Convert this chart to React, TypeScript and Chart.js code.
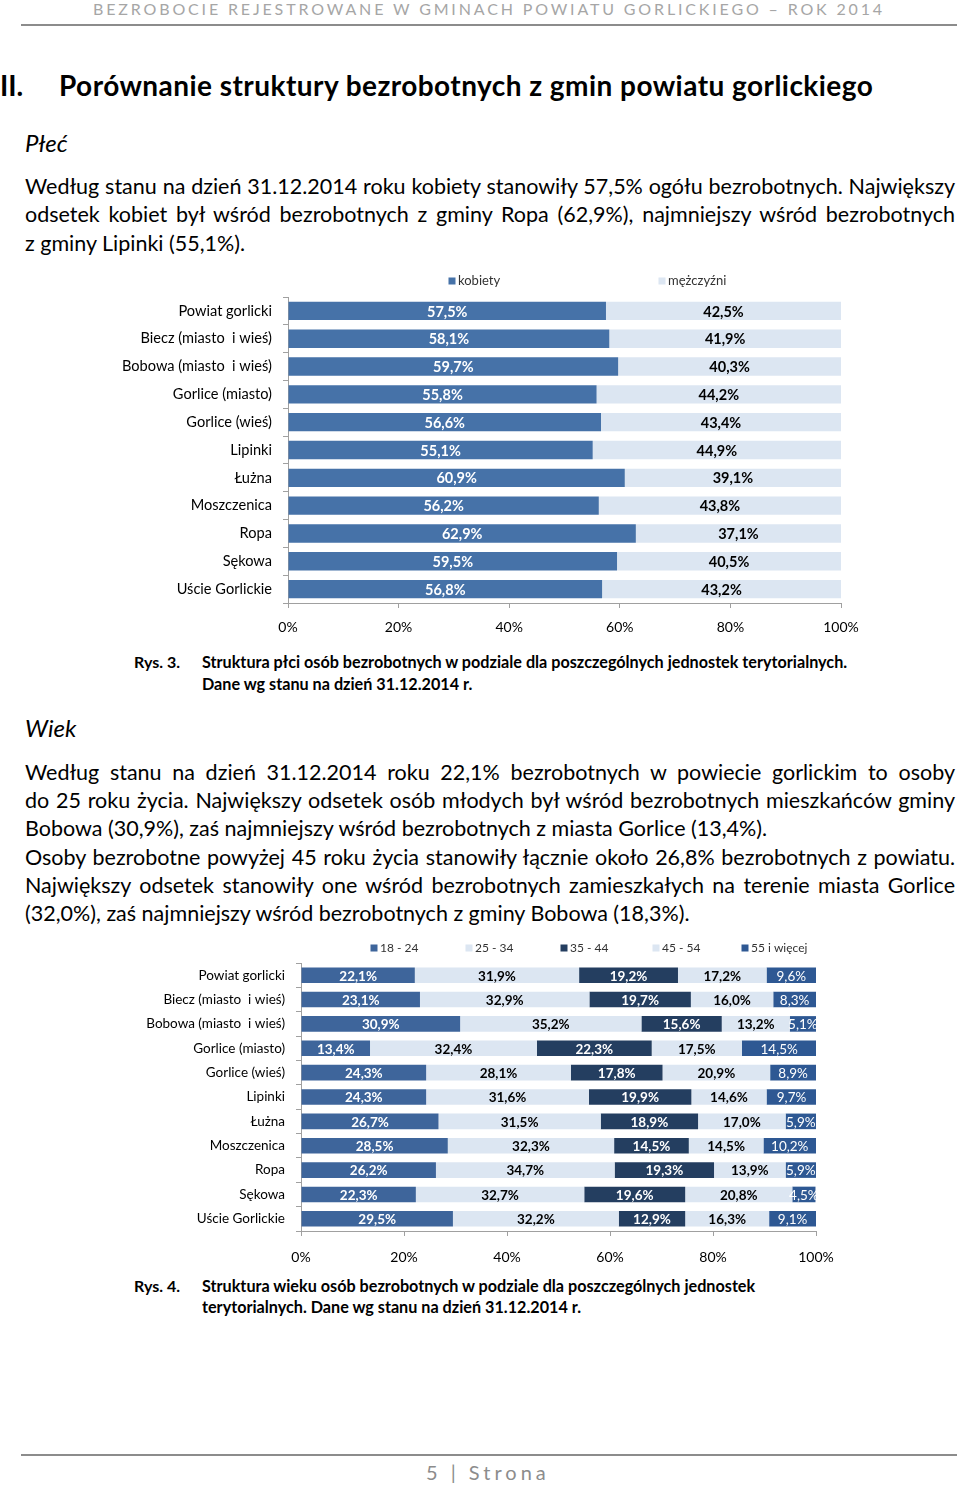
import React, { useEffect, useRef } from 'react';
import { Chart, registerables } from 'chart.js';
Chart.register(...registerables);

const gminy = [
  'Powiat gorlicki',
  'Biecz (miasto  i wieś)',
  'Bobowa (miasto  i wieś)',
  'Gorlice (miasto)',
  'Gorlice (wieś)',
  'Lipinki',
  'Łużna',
  'Moszczenica',
  'Ropa',
  'Sękowa',
  'Uście Gorlickie',
];
const kobiety = [57.5, 58.1, 59.7, 55.8, 56.6, 55.1, 60.9, 56.2, 62.9, 59.5, 56.8];
const mezczyzni = [42.5, 41.9, 40.3, 44.2, 43.4, 44.9, 39.1, 43.8, 37.1, 40.5, 43.2];

const wiekLabels = ['18 - 24', '25 - 34', '35 - 44', '45 - 54', '55 i więcej'];
const wiek18_24 = [22.1, 23.1, 30.9, 13.4, 24.3, 24.3, 26.7, 28.5, 26.2, 22.3, 29.5];
const wiek25_34 = [31.9, 32.9, 35.2, 32.4, 28.1, 31.6, 31.5, 32.3, 34.7, 32.7, 32.2];
const wiek35_44 = [19.2, 19.7, 15.6, 22.3, 17.8, 19.9, 18.9, 14.5, 19.3, 19.6, 12.9];
const wiek45_54 = [17.2, 16.0, 13.2, 17.5, 20.9, 14.6, 17.0, 14.5, 13.9, 20.8, 16.3];
const wiek55 = [9.6, 8.3, 5.1, 14.5, 8.9, 9.7, 5.9, 10.2, 5.9, 4.5, 9.1];

const FONT = 'Lato, "Open Sans", sans-serif';
const AXIS_COLOR = '#a0a0a0';

const fmt = (v: number) => v.toFixed(1).replace('.', ',') + '%';

const labelPlugin = {
  id: 'segLabels',
  afterDatasetsDraw(chart: any) {
    const ctx = chart.ctx;
    const opts = chart.options.plugins.segLabels || {};
    chart.data.datasets.forEach((ds: any, i: number) => {
      const meta = chart.getDatasetMeta(i);
      const style = ds.labelStyle || {};
      ctx.save();
      ctx.font = `${style.weight || 'bold'} ${opts.size || 14}px ${FONT}`;
      ctx.fillStyle = style.color || '#000';
      ctx.textAlign = 'center';
      ctx.textBaseline = 'middle';
      meta.data.forEach((bar: any, j: number) => {
        const cx = (bar.x + bar.base) / 2;
        ctx.fillText(fmt(ds.data[j]), cx, bar.y + (opts.dy || 1));
      });
      ctx.restore();
    });
  },
};

const legendPlugin = {
  id: 'customLegend',
  afterDraw(chart: any) {
    const o = chart.options.plugins.customLegend;
    if (!o) return;
    const ctx = chart.ctx;
    ctx.save();
    ctx.font = `${o.size}px ${FONT}`;
    ctx.textBaseline = 'middle';
    ctx.textAlign = 'left';
    chart.data.datasets.forEach((ds: any, i: number) => {
      const x = o.xs[i];
      ctx.fillStyle = ds.backgroundColor;
      ctx.fillRect(x - 3.5, o.y - 3.5, 7, 7);
      ctx.fillStyle = '#333';
      ctx.fillText(ds.label, x + 6, o.y);
    });
    ctx.restore();
  },
};

function makeOptions(p: {
  top: number;
  right: number;
  yWidth: number;
  xHeight: number;
  xPad: number;
  catSize: number;
  barFrac: number;
  labelSize: number;
  legendXs: number[];
  legendY: number;
  legendSize: number;
}) {
  return {
    indexAxis: 'y' as const,
    animation: false as const,
    responsive: false,
    maintainAspectRatio: false,
    layout: { padding: { top: p.top, right: p.right, bottom: 0, left: 0 } },
    datasets: { bar: { categoryPercentage: p.barFrac, barPercentage: 1 } },
    plugins: {
      legend: { display: false },
      tooltip: { enabled: false },
      segLabels: { size: p.labelSize, dy: 1 },
      customLegend: { xs: p.legendXs, y: p.legendY, size: p.legendSize },
    },
    scales: {
      x: {
        stacked: true,
        min: 0,
        max: 100,
        afterFit: (s: any) => {
          s.height = p.xHeight;
        },
        ticks: {
          stepSize: 20,
          padding: p.xPad,
          color: '#000',
          font: { family: FONT, size: 14 },
          callback: (v: any) => v + '%',
        },
        grid: { drawOnChartArea: false, drawTicks: true, tickLength: 5, color: AXIS_COLOR },
        border: { color: AXIS_COLOR },
      },
      y: {
        stacked: true,
        afterFit: (s: any) => {
          s.width = p.yWidth;
        },
        ticks: {
          padding: 11,
          color: '#000',
          font: { family: FONT, size: p.catSize },
        },
        grid: { drawOnChartArea: false, drawTicks: true, tickLength: 5, offset: true, color: AXIS_COLOR },
        border: { color: AXIS_COLOR },
      },
    },
  };
}

function PlecChart() {
  const ref = useRef<HTMLCanvasElement>(null);
  useEffect(() => {
    const chart = new Chart(ref.current!, {
      type: 'bar',
      data: {
        labels: gminy,
        datasets: [
          { label: 'kobiety', data: kobiety, backgroundColor: '#4672a8', labelStyle: { color: '#fff' } } as any,
          { label: 'mężczyźni', data: mezczyzni, backgroundColor: '#dce6f2', labelStyle: { color: '#000' } } as any,
        ],
      },
      options: makeOptions({
        top: 29,
        right: 39,
        yWidth: 188,
        xHeight: 45,
        xPad: 11,
        catSize: 14.6,
        barFrac: 0.66,
        labelSize: 14.5,
        legendXs: [352, 562],
        legendY: 13,
        legendSize: 13,
      }) as any,
      plugins: [labelPlugin, legendPlugin],
    });
    return () => chart.destroy();
  }, []);
  return <canvas ref={ref} width={780} height={380} style={{ position: 'absolute', left: 100, top: 268 }} />;
}

function WiekChart() {
  const ref = useRef<HTMLCanvasElement>(null);
  useEffect(() => {
    const series = [wiek18_24, wiek25_34, wiek35_44, wiek45_54, wiek55];
    const colors = ['#3e659b', '#dce6f2', '#243e60', '#dce6f2', '#2e5893'];
    const lbl = [
      { color: '#fff' },
      { color: '#000' },
      { color: '#fff' },
      { color: '#000' },
      { color: '#fff', weight: 'normal' },
    ];
    const chart = new Chart(ref.current!, {
      type: 'bar',
      data: {
        labels: gminy,
        datasets: series.map((d, i) => ({
          label: wiekLabels[i],
          data: d,
          backgroundColor: colors[i],
          labelStyle: lbl[i],
        })) as any,
      },
      options: makeOptions({
        top: 28,
        right: 54,
        yWidth: 161,
        xHeight: 44,
        xPad: 13,
        catSize: 13.5,
        barFrac: 0.64,
        labelSize: 13.5,
        legendXs: [234, 329, 424, 516, 605],
        legendY: 13,
        legendSize: 12,
      }) as any,
      plugins: [labelPlugin, legendPlugin],
    });
    return () => chart.destroy();
  }, []);
  return <canvas ref={ref} width={730} height={340} style={{ position: 'absolute', left: 140, top: 935 }} />;
}

function Line({ text, cy, justify }: { text: string; cy: number; justify?: boolean }) {
  return (
    <div
      style={{
        position: 'absolute',
        left: 25,
        width: 930,
        top: cy - 14,
        height: 28,
        lineHeight: '28px',
        fontSize: 21.5,
        textAlign: 'justify',
        textAlignLast: justify ? 'justify' : 'left',
        whiteSpace: 'nowrap',
        color: '#000',
      } as any}
    >
      {text}
    </div>
  );
}

const abs = (l: number, cy: number, h: number, extra: any = {}) => ({
  position: 'absolute' as const,
  left: l,
  top: cy - h / 2,
  height: h,
  lineHeight: h + 'px',
  whiteSpace: 'nowrap' as const,
  ...extra,
});

export default function App() {
  return (
    <div
      style={{
        position: 'absolute',
        left: 0,
        top: 0,
        width: 960,
        height: 1486,
        background: '#fff',
        fontFamily: FONT,
        overflow: 'hidden',
      }}
    >
      <div style={abs(93, 9, 20, { fontSize: 16, letterSpacing: '2.85px', color: '#a6a6a6' })}>
        BEZROBOCIE REJESTROWANE W GMINACH POWIATU GORLICKIEGO – ROK 2014
      </div>
      <div style={{ position: 'absolute', left: 21, top: 24, width: 936, height: 2, background: '#8c8c8c' }} />

      <div style={abs(0, 85, 36, { fontSize: 28, fontWeight: 'bold' })}>II.</div>
      <div style={abs(59, 85, 36, { fontSize: 28, fontWeight: 'bold', letterSpacing: '0.45px' })}>
        Porównanie struktury bezrobotnych z gmin powiatu gorlickiego
      </div>

      <div style={abs(25, 143, 30, { fontSize: 24, fontStyle: 'italic' })}>Płeć</div>

      <Line cy={186} justify text="Według stanu na dzień 31.12.2014 roku kobiety stanowiły 57,5% ogółu bezrobotnych. Największy" />
      <Line cy={214} justify text="odsetek kobiet był wśród bezrobotnych z gminy Ropa (62,9%), najmniejszy wśród bezrobotnych" />
      <Line cy={243} text="z gminy Lipinki (55,1%)." />

      <PlecChart />

      <div style={abs(134, 662, 22, { fontSize: 16, fontWeight: 'bold' })}>Rys. 3.</div>
      <div style={abs(202, 662, 22, { fontSize: 16.2, fontWeight: 'bold' })}>
        Struktura płci osób bezrobotnych w podziale dla poszczególnych jednostek terytorialnych.
      </div>
      <div style={abs(202, 684, 22, { fontSize: 16.2, fontWeight: 'bold' })}>Dane wg stanu na dzień 31.12.2014 r.</div>

      <div style={abs(25, 728, 30, { fontSize: 24, fontStyle: 'italic' })}>Wiek</div>

      <Line cy={772} justify text="Według stanu na dzień 31.12.2014 roku 22,1% bezrobotnych w powiecie gorlickim to osoby" />
      <Line cy={800} justify text="do 25 roku życia. Największy odsetek osób młodych był wśród bezrobotnych mieszkańców gminy" />
      <Line cy={828} text="Bobowa (30,9%), zaś najmniejszy wśród bezrobotnych z miasta Gorlice (13,4%)." />
      <Line cy={857} justify text="Osoby bezrobotne powyżej 45 roku życia stanowiły łącznie około 26,8% bezrobotnych z powiatu." />
      <Line cy={885} justify text="Największy odsetek stanowiły one wśród bezrobotnych zamieszkałych na terenie miasta Gorlice" />
      <Line cy={913} text="(32,0%), zaś najmniejszy wśród bezrobotnych z gminy Bobowa (18,3%)." />

      <WiekChart />

      <div style={abs(134, 1286, 22, { fontSize: 16, fontWeight: 'bold' })}>Rys. 4.</div>
      <div style={abs(202, 1286, 22, { fontSize: 16.2, fontWeight: 'bold' })}>
        Struktura wieku osób bezrobotnych w podziale dla poszczególnych jednostek
      </div>
      <div style={abs(202, 1307, 22, { fontSize: 16.2, fontWeight: 'bold' })}>
        terytorialnych. Dane wg stanu na dzień 31.12.2014 r.
      </div>

      <div style={{ position: 'absolute', left: 21, top: 1454, width: 936, height: 2, background: '#8c8c8c' }} />
      <div style={abs(426, 1472, 26, { fontSize: 20, letterSpacing: '4px', color: '#8c8c8c' })}>5 | Strona</div>
    </div>
  );
}
